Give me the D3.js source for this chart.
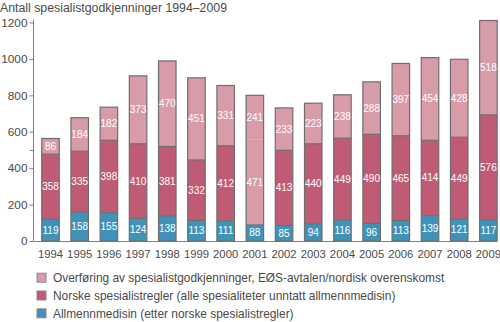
<!DOCTYPE html>
<html><head><meta charset="utf-8">
<script src="https://cdn.jsdelivr.net/npm/d3@7"></script>
<style>body{margin:0;background:#fff}svg{display:block;font-family:"Liberation Sans",Arial,sans-serif}</style>
</head><body>
<svg id="c" width="500" height="322"></svg>
<script>
const years = ["1994","1995","1996","1997","1998","1999","2000","2001","2002","2003","2004","2005","2006","2007","2008","2009"];
const allmenn = [119,158,155,124,138,113,111,88,85,94,116,96,113,139,121,117];
const norske = [358,335,398,410,381,332,412,471,413,440,449,490,465,414,449,576];
const overforing = [86,184,182,373,470,451,331,241,233,223,238,288,397,454,428,518];
const yTicks = [0,200,400,600,800,1000,1200];
const minorTicks = [500];
const seriesNames = ["Overføring av spesialistgodkjenninger, EØS-avtalen/nordisk overenskomst","Norske spesialistregler (alle spesialiteter unntatt allmennmedisin)","Allmennmedisin (etter norske spesialistregler)"];
const colors = {allmenn:"#3f93b9", norske:"#bf5b74", overforing:"#d89ca8"};
// In the original, the 2001 middle segment is drawn in the light colour
const colorOverride = {"2001": {norske: "overforing"}};

const svg = d3.select("#c");
const x = d3.scaleBand().domain(years).range([35.9, 503]).paddingInner(0.4).paddingOuter(0.2);
const y = d3.scaleLinear().domain([0,1200]).range([241,22.5]);
const textCol = "#4a4a4a", axisCol = "#808080", strokeCol = "#6e6e6e";

svg.append("text").attr("x",0).attr("y",12).attr("font-size",12.3).attr("fill",textCol)
  .text("Antall spesialistgodkjenninger 1994–2009");

// y axis
const yAxis = d3.axisLeft(y).tickValues(yTicks).tickSize(4).tickPadding(2).tickFormat(d3.format("d"));
const ga = svg.append("g").attr("transform","translate(33.5,0)").call(yAxis);
ga.select(".domain").attr("stroke",axisCol).attr("d","M0,19.5V241");
ga.selectAll(".tick line").attr("stroke",axisCol);
ga.selectAll(".tick text").attr("fill",textCol).attr("font-size",11.8).attr("font-family","Liberation Sans, Arial, sans-serif");
ga.selectAll(".minor").data(minorTicks).enter().append("line").attr("class","minor")
  .attr("x1",-4).attr("x2",0).attr("y1",d=>y(d)+0.5).attr("y2",d=>y(d)+0.5).attr("stroke",axisCol);

// baseline
svg.append("line").attr("x1",33.5).attr("x2",497).attr("y1",y(0)+0.5).attr("y2",y(0)+0.5).attr("stroke",axisCol);

const keys = ["allmenn","norske","overforing"];
const vals = {allmenn, norske, overforing};
years.forEach((yr,i)=>{
  let base = 0;
  const g = svg.append("g");
  const segs = keys.map(k=>{
    const v = vals[k][i];
    const ck = (colorOverride[yr] && colorOverride[yr][k]) || k;
    const s = {k, v, y0: base, y1: base+v, ck};
    base += v; return s;
  });
  segs.forEach(s=>{
    g.append("rect").attr("x",x(yr)).attr("width",x.bandwidth())
      .attr("y",y(s.y1)).attr("height",y(s.y0)-y(s.y1)).attr("fill",colors[s.ck]);
  });
  for(let j=1;j<segs.length;j++){
    if(segs[j].ck!==segs[j-1].ck){
      g.append("line").attr("x1",x(yr)).attr("x2",x(yr)+x.bandwidth())
        .attr("y1",y(segs[j].y0)).attr("y2",y(segs[j].y0)).attr("stroke",strokeCol).attr("stroke-width",1.2);
    }
  }
  g.append("rect").attr("x",x(yr)).attr("width",x.bandwidth())
    .attr("y",y(base)).attr("height",y(0)-y(base)).attr("fill","none").attr("stroke",strokeCol).attr("stroke-width",1.2);
  segs.forEach(s=>{
    g.append("text").attr("x",x(yr)+x.bandwidth()/2).attr("y",y((s.y0+s.y1)/2)+3.5)
      .attr("text-anchor","middle").attr("font-size",10).attr("fill","#fff").text(s.v);
  });
  svg.append("text").attr("x",x(yr)+x.bandwidth()/2).attr("y",258).attr("text-anchor","middle")
    .attr("font-size",11.3).attr("fill",textCol).text(yr);
});

// legend
const legKeys = ["overforing","norske","allmenn"];
legKeys.forEach((k,i)=>{
  const cy = 277.7 + i*17.8;
  svg.append("rect").attr("x",37).attr("y",cy-4.5).attr("width",9).attr("height",9)
    .attr("fill",colors[k]).attr("stroke","#888").attr("stroke-width",1);
  svg.append("text").attr("x",53).attr("y",cy+4.2).attr("font-size",11.9).attr("fill",textCol).text(seriesNames[i]);
});
</script>
</body></html>
